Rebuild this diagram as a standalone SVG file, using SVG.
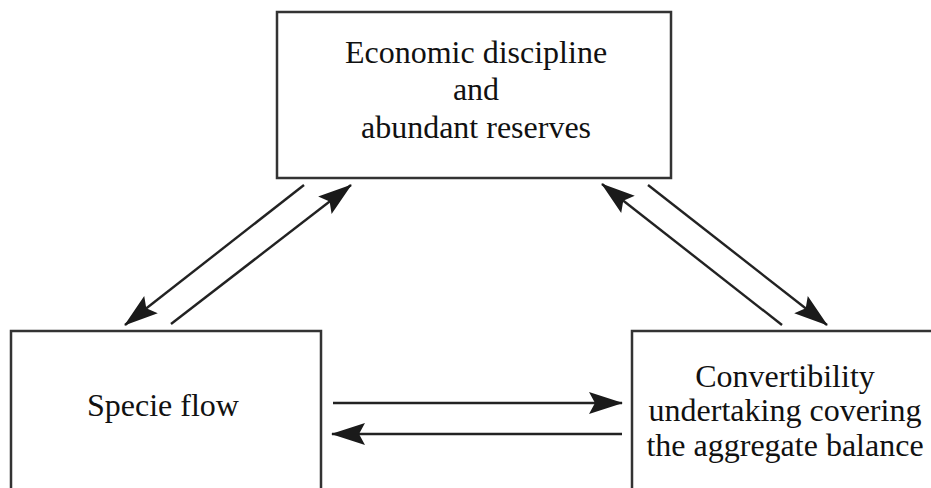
<svg xmlns="http://www.w3.org/2000/svg" width="931" height="488" viewBox="0 0 931 488">
  <style>
    .box { fill: none; stroke: #333; stroke-width: 2.5; }
    .lbl { font-family: "Liberation Serif", "Times New Roman", serif; font-size: 32px; fill: #111; text-anchor: middle; }
    .arr { fill: none; stroke: #222; stroke-width: 2.4; marker-end: url(#head); }
  </style>
  <defs>
    <marker id="head" markerUnits="userSpaceOnUse" viewBox="0 0 34 24" markerWidth="34" markerHeight="24" refX="33" refY="12" orient="auto" overflow="visible">
      <path d="M0,1 L34,12 L0,23 L6,12 Z" fill="#1a1a1a"/>
    </marker>
  </defs>
  <rect width="931" height="488" fill="#fff"/>

  <g id="node-top">
    <rect class="box" x="277" y="12" width="394" height="166"/>
    <text class="lbl" x="476" y="63">Economic discipline</text>
    <text class="lbl" x="476" y="100">and</text>
    <text class="lbl" x="476" y="138">abundant reserves</text>
  </g>

  <g id="node-specie">
    <path class="box" d="M11,492 V331 H321 V492"/>
    <text class="lbl" x="163" y="416">Specie flow</text>
  </g>

  <g id="node-convertibility">
    <path class="box" d="M632,492 V331 H935"/>
    <text class="lbl" x="785" y="387">Convertibility</text>
    <text class="lbl" x="785" y="421">undertaking covering</text>
    <text class="lbl" x="785" y="456">the aggregate balance</text>
  </g>

  <g id="connectors">
    <line class="arr" x1="304" y1="185" x2="125" y2="325"/>
    <line class="arr" x1="171" y1="324" x2="351" y2="185"/>
    <line class="arr" x1="782" y1="325" x2="602" y2="184"/>
    <line class="arr" x1="648" y1="185" x2="827" y2="325"/>
    <line class="arr" x1="333" y1="403" x2="622" y2="403"/>
    <line class="arr" x1="622" y1="434" x2="332" y2="434"/>
  </g>
</svg>
